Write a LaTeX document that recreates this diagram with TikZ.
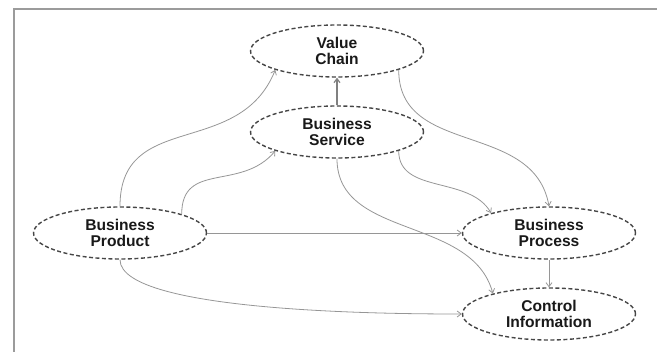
\documentclass[tikz,border=0pt]{standalone}
\usepackage{fontspec}
\setmainfont{Liberation Sans}
\usetikzlibrary{shapes.geometric,arrows.meta}
\definecolor{myFrameGray}{RGB}{155,155,155}
\definecolor{myLineGray}{RGB}{150,150,150}
\definecolor{myDarkGray}{RGB}{70,70,70}
\definecolor{myText}{RGB}{25,25,25}

\begin{document}
\begin{tikzpicture}[%
    x=1pt, y=1pt,
    every node/.style={
        font=\fontsize{15.6}{16}\selectfont\bfseries,
        text=myText,
        align=center,
    },
    concept/.style={
        ellipse, draw=myDarkGray, line width=1.4pt,
        dash pattern=on 4pt off 2.5pt,
        minimum width=173pt, minimum height=52pt, inner sep=0pt,
    },
    link/.style={
        draw=myLineGray, line width=0.8pt,
        -{Straight Barb[length=4pt,width=6pt]},
    },
]
\useasboundingbox (0,0) rectangle (657,352);

% draw frame
\draw[myFrameGray,line width=2pt] (13.5,0) -- (13.5,342.5) -- (657,342.5);

% place concepts
\node[concept] (chain) at (337,301) {Value\\Chain};
\node[concept] (service) at (337,220) {Business\\Service};
\node[concept] (product) at (120,119) {Business\\Product};
\node[concept] (process) at (549,119) {Business\\Process};
\node[concept] (control) at (549,38) {Control\\Information};

% straight links
\draw[link,line width=1.2pt,draw=gray] (service.north) -- (chain.south);
\draw[link] (product.east) -- (process.west);
\draw[link] (process.south) -- (control.north);

% curved links
\draw[link] (product.north) to[out=90,in=-112,looseness=1.2] (chain.197);
\draw[link] (product.17) to[out=90,in=-130,looseness=1.2] (service.197);
\draw[link] (chain.-17) to[out=-90,in=100,looseness=1.1] (process.north);
\draw[link] (service.-17) to[out=-90,in=120] (process.161);
\draw[link] (service.south) to[out=-90,in=105] (control.160);
\draw[link] (product.south) to[out=-90,in=180,looseness=0.4] (control.west);

\end{tikzpicture}
\end{document}
